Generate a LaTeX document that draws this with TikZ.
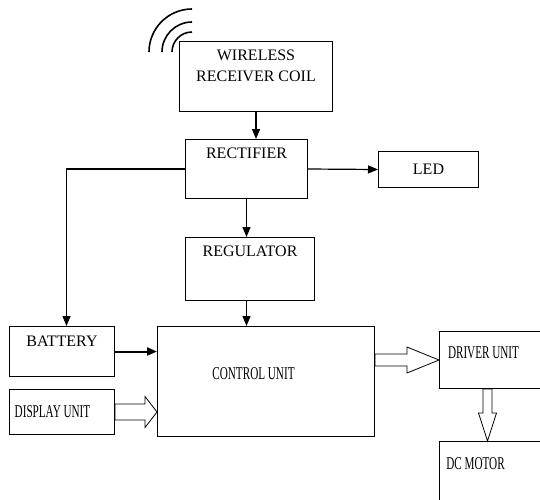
\documentclass[tikz,border=0pt]{standalone}
\usepackage{fontspec}
\setmainfont{Liberation Serif}
\usetikzlibrary{arrows.meta, calc}

\begin{document}
\begin{tikzpicture}[
  x=1pt, y=-1pt,
  block/.style={draw, line width=1pt, anchor=north west, inner sep=0pt},
  captop/.style={font=\fontsize{16}{19}\selectfont, align=center, inner sep=0pt},
  caplow/.style={font=\fontsize{18}{21}\selectfont, xscale=0.62, inner sep=0pt},
  arrow/.style={line width=1.2pt, -{Triangle[length=10pt, width=8pt]}},
  fatarrow/.style n args={3}{draw, line width=0.8pt, to path={
    let \p1=(\tikztostart), \p2=(\tikztotarget) in
    ($(\p2)!#3!(\p1)$) coordinate (fah)
    ($(\p1)!#1!90:(\p2)$) -- ($(fah)!#1!90:(\p2)$) -- ($(fah)!#2!90:(\p2)$) -- (\p2)
    -- ($(fah)!#2!-90:(\p2)$) -- ($(fah)!#1!-90:(\p2)$) -- ($(\p1)!#1!-90:(\p2)$) -- cycle}},
  wave/.style={line width=1.6pt}
]
  \useasboundingbox (0,0) rectangle (540,499);

  % Blocchi
  \node[block, minimum width=153pt, minimum height=70pt] (coil) at (179,41) {};
  \node[block, minimum width=122pt, minimum height=59pt] (rect) at (185,139) {};
  \node[block, minimum width=100pt, minimum height=36pt] (led) at (378,151) {};
  \node[block, minimum width=129pt, minimum height=63pt] (reg) at (185,237) {};
  \node[block, minimum width=105pt, minimum height=50pt] (batt) at (9,326) {};
  \node[block, minimum width=105pt, minimum height=45pt] (disp) at (9,389) {};
  \node[block, minimum width=217pt, minimum height=110pt] (ctrl) at (157,326) {};
  \node[block, minimum width=102pt, minimum height=57pt] (drv) at (439,331) {};
  \node[block, minimum width=102pt, minimum height=70pt] (mot) at (439,441) {};

  % Testi
  \node[captop] (coiltxt) at ([yshift=-25pt]coil.north) {WIRELESS\\[2pt]RECEIVER COIL};
  \node[captop] (recttxt) at ([yshift=-14pt]rect.north) {RECTIFIER};
  \node[captop] (ledtxt) at (led.center) {LED};
  \node[captop] (regtxt) at ([yshift=-14pt]reg.north) {REGULATOR};
  \node[captop] (batttxt) at ([yshift=-15pt]batt.north) {BATTERY};
  \node[caplow] (disptxt) at ([xshift=-9.5pt]disp.center) {DISPLAY UNIT};
  \node[caplow] (ctrltxt) at ([xshift=-12.5pt, yshift=8pt]ctrl.center) {CONTROL UNIT};
  \node[caplow] (drvtxt) at ([xshift=-7pt, yshift=7.5pt]drv.center) {DRIVER UNIT};
  \node[caplow] (mottxt) at ([xshift=-15pt, yshift=-23pt]mot.north) {DC MOTOR};

  % Onde dell'antenna
  \coordinate (wc) at ([xshift=13pt, yshift=-11pt]coil.north west);
  \foreach \r in {20,30,43}
    \draw[wave] ([xshift=-\r pt]wc) arc[start angle=180, end angle=270, radius=\r];

  % Frecce semplici
  \draw[arrow] (coil.south) -- (coil.south |- rect.north);
  \draw[arrow] (rect.south) -- (rect.south |- reg.north);
  \draw[arrow] (reg.south -| rect.south) -- (rect.south |- ctrl.north);
  \draw[arrow] (rect.east) -- (led.west);
  \draw[arrow] (rect.west) -| ([xshift=4.5pt]batt.north);
  \draw[arrow, line width=2pt] (batt.east) -- (batt.east -| ctrl.west);

  % Frecce larghe
  \draw[fatarrow={8pt}{15.5pt}{12pt}] (disp.east) to (disp.east -| ctrl.west);
  \draw[fatarrow={6pt}{13pt}{32pt}] (ctrl.east |- drv.center) to (drv.west);
  \draw[fatarrow={4.5pt}{9pt}{28pt}] ([xshift=-3pt]drv.south) to ([xshift=-3pt]mot.north);

\end{tikzpicture}
\end{document}
